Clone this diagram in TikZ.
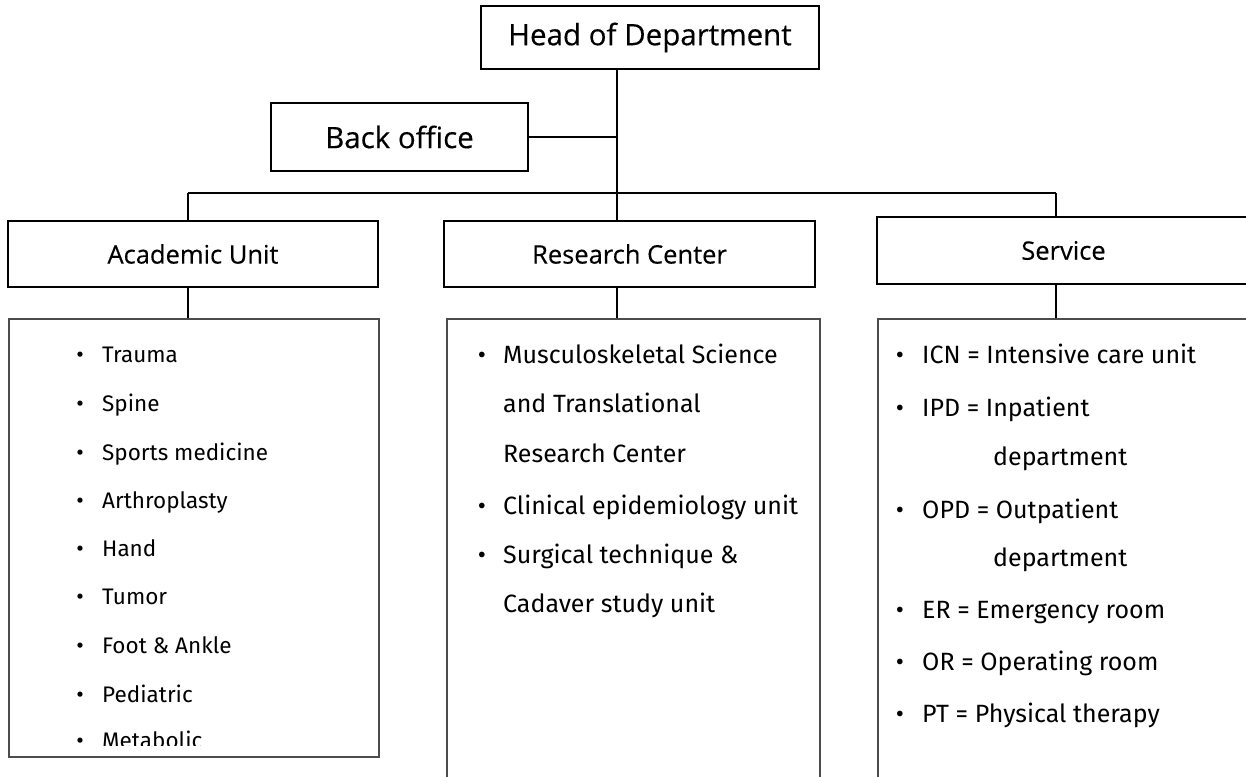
\documentclass[tikz,border=0pt]{standalone}
\usepackage{fontspec}
\setmainfont{Fira Sans}
\newfontfamily\headfont{Open Sans}[FakeBold=0.3]
\begin{document}
\begin{tikzpicture}[x=1pt,y=-1pt,
  hbox/.style={draw=black,line width=1.5pt,fill=white,inner sep=0pt,rectangle},
  cbox/.style={draw=black!70,line width=1.3pt,inner sep=0pt,rectangle},
  conn/.style={line width=2pt,black},
  bigtxt/.style={font=\headfont\fontsize{29.5}{34}\selectfont},
  midtxt/.style={font=\headfont\fontsize{25.5}{30}\selectfont},
  item/.style={anchor=base west,inner sep=0pt,font=\fontsize{25}{30}\selectfont},
  bul/.style={anchor=base,inner sep=0pt,font=\fontsize{25}{30}\selectfont},
  aitem/.style={item,font=\fontsize{22.5}{27}\selectfont},
  abul/.style={bul,font=\fontsize{23}{27}\selectfont}]
\useasboundingbox (0,0) rectangle (1246,776);

% header boxes
\node[hbox,bigtxt,minimum width=338pt,minimum height=63pt] (head) at (650,37.5) {Head of Department};
\node[hbox,bigtxt,minimum width=257pt,minimum height=68pt] (back) at (399.5,137) {Back office};
\node[hbox,midtxt,minimum width=370pt,minimum height=66pt] (acad) at (193,254) {Academic Unit};
\node[hbox,midtxt,minimum width=371pt,minimum height=66pt] (res) at (629.5,254) {Research Center};
\node[hbox,midtxt,minimum width=373pt,minimum height=67pt] (serv) at (1063.5,250.5) {Service};

% content boxes
\node[cbox,minimum width=370pt,minimum height=438pt] (acadC) at (194,538) {};
\node[cbox,minimum width=373pt,minimum height=471pt] (resC) at (633.5,554.5) {};
\node[cbox,minimum width=382pt,minimum height=471pt] (servC) at (1069,554.5) {};

% junction coordinates
\coordinate (jb) at (617,137);
\coordinate (bl) at (188,193);
\coordinate (bm) at (617,193);
\coordinate (br) at (1056,193);

% connectors
\draw[conn] (head.south -| bm) -- (bm);
\draw[conn] (back.east) -- (jb);
\draw[conn] (bl) -- (br);
\draw[conn] (bl) -- (bl |- acad.north);
\draw[conn] (bm) -- (bm |- res.north);
\draw[conn] (br) -- (br |- serv.north);
\draw[conn] (bl |- acad.south) -- (bl |- acadC.north);
\draw[conn] (bm |- res.south) -- (bm |- resC.north);
\draw[conn] (br |- serv.south) -- (br |- servC.north);

% academic list
\begin{scope}
\clip (9,320) rectangle (379,745);
\foreach \t/\y [count=\i] in {Trauma/362,Spine/411,Sports medicine/460,Arthroplasty/508,Hand/556,Tumor/604,Foot \& Ankle/653,Pediatric/702,Metabolic/748}{
  \node[abul] (ab\i) at (80,\y) {•};
  \node[aitem] (at\i) at (102,\y) {\t};
}
\end{scope}

% research list
\node[bul] (rb1) at (482,363) {•};
\node[item] (rt1) at (503,363) {Musculoskeletal Science};
\node[item] (rt1b) at (503,412) {and Translational};
\node[item] (rt1c) at (503,462) {Research Center};
\node[bul] (rb2) at (482,514) {•};
\node[item] (rt2) at (503,514) {Clinical epidemiology unit};
\node[bul] (rb3) at (482,563) {•};
\node[item] (rt3) at (503,563) {Surgical technique \&};
\node[item] (rt3b) at (503,612) {Cadaver study unit};

% service list
\node[bul] (sb1) at (900,363) {•};
\node[item] (st1) at (922,363) {ICN = Intensive care unit};
\node[bul] (sb2) at (900,416) {•};
\node[item] (st2) at (922,416) {IPD = Inpatient};
\node[item] (st2b) at (993,465) {department};
\node[bul] (sb3) at (900,518) {•};
\node[item] (st3) at (922,518) {OPD = Outpatient};
\node[item] (st3b) at (993,566) {department};
\node[bul] (sb4) at (900,618) {•};
\node[item] (st4) at (922,618) {ER = Emergency room};
\node[bul] (sb5) at (900,670) {•};
\node[item] (st5) at (922,670) {OR = Operating room};
\node[bul] (sb6) at (900,722) {•};
\node[item] (st6) at (922,722) {PT = Physical therapy};
\end{tikzpicture}
\end{document}
